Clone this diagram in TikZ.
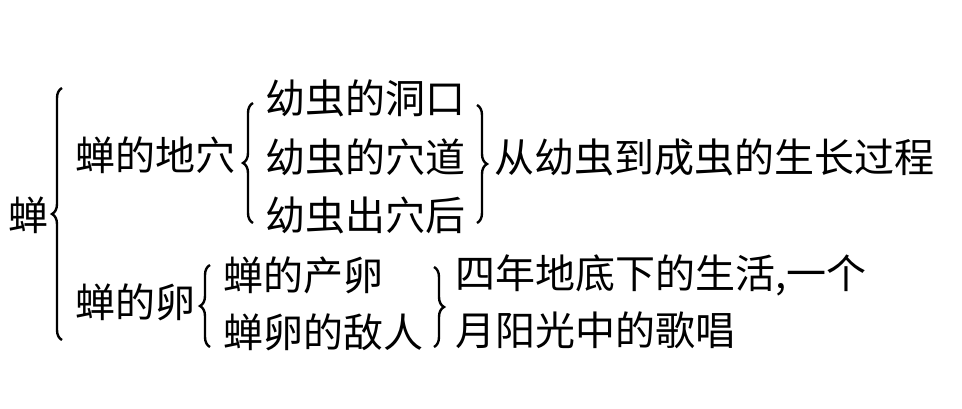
\documentclass[tikz,border=0pt]{standalone}
\usepackage{fontspec}
\newfontfamily\cjk{Noto Sans CJK SC}
\usetikzlibrary{decorations.pathreplacing}
\begin{document}
\begin{tikzpicture}[x=1pt,y=-1pt,
  txt/.style={font=\cjk\fontsize{40}{40}\selectfont, inner sep=0pt, anchor=base west},
  brc/.style={decorate, decoration={brace, amplitude=10pt}, line width=2.4pt}]
\useasboundingbox (0,0) rectangle (962,408);
\node[txt] (root) at (8,230) {蝉};
\node[txt] (a) at (75,170) {蝉的地穴};
\node[txt] (a1) at (265,113) {幼虫的洞口};
\node[txt] (a2) at (265,172) {幼虫的穴道};
\node[txt] (a3) at (265,230) {幼虫出穴后};
\node[txt] (ar) at (494,172) {从幼虫到成虫的生长过程};
\node[txt] (b) at (75,317) {蝉的卵};
\node[txt] (b1) at (223,290) {蝉的产卵};
\node[txt] (b2) at (223,347) {蝉卵的敌人};
\node[txt] (br1) at (455,288) {四年地底下的生活,一个};
\node[txt] (br2) at (455,345) {月阳光中的歌唱};
% brace end points
\coordinate (B0b) at (62,340); \coordinate (B0t) at (62,88);
\coordinate (B1b) at (253,223); \coordinate (B1t) at (253,103);
\coordinate (B2t) at (477,105); \coordinate (B2b) at (477,223);
\coordinate (B3b) at (210,347); \coordinate (B3t) at (210,265);
\coordinate (B4t) at (434,267); \coordinate (B4b) at (434,347);
\draw[brc] (B0b) -- (B0t);
\draw[brc] (B1b) -- (B1t);
\draw[brc] (B2t) -- (B2b);
\draw[brc] (B3b) -- (B3t);
\draw[brc] (B4t) -- (B4b);
\end{tikzpicture}
\end{document}
